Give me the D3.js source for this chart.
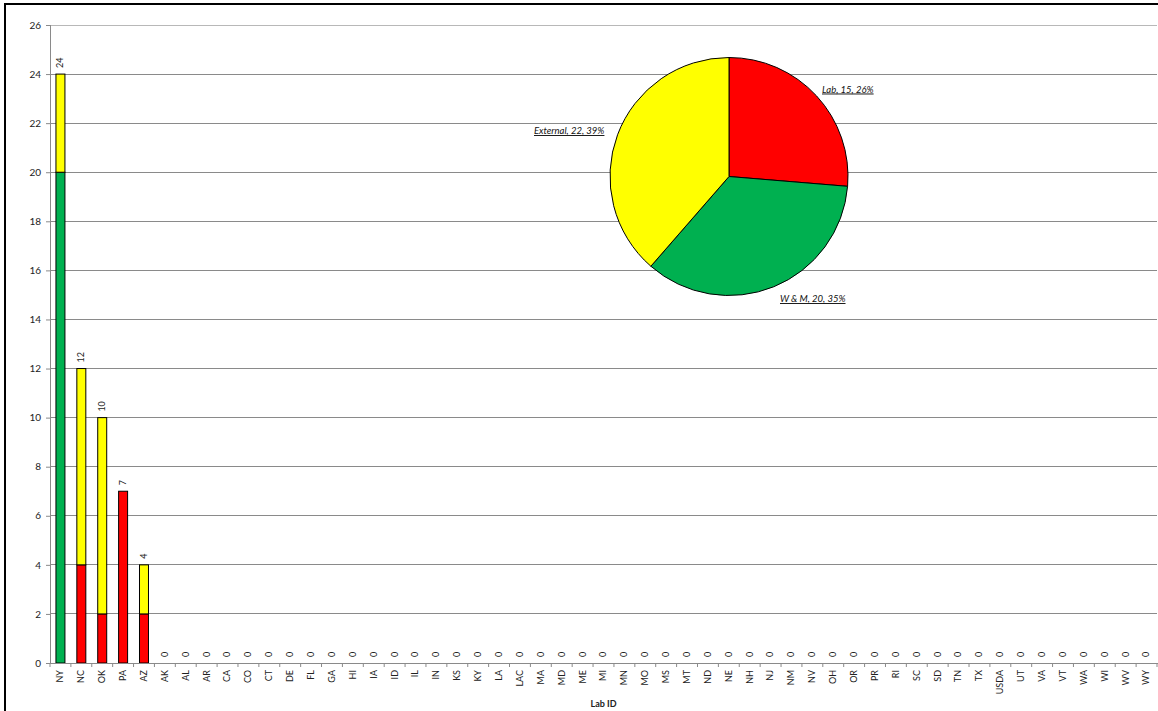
<!DOCTYPE html>
<html>
<head>
<meta charset="utf-8">
<script src="https://cdn.jsdelivr.net/npm/d3@7"></script>
<style>
  html, body { margin: 0; padding: 0; background: #fff; }
  svg { display: block; font-family: Lato, "Open Sans", "Liberation Sans", sans-serif; }
</style>
</head>
<body>
<svg id="chart" width="1158" height="711"></svg>
<script>
const categories = ["NY","NC","OK","PA","AZ","AK","AL","AR","CA","CO","CT","DE","FL","GA","HI","IA","ID","IL","IN","KS","KY","LA","LAC","MA","MD","ME","MI","MN","MO","MS","MT","ND","NE","NH","NJ","NM","NV","OH","OR","PR","RI","SC","SD","TN","TX","USDA","UT","VA","VT","WA","WI","WV","WY"];
const seriesNames = ["Lab", "W & M", "External"];
const seriesColors = ["#FF0000", "#00B050", "#FFFF00"];
const labValues      = [0, 4, 2, 7, 2].concat(new Array(48).fill(0));
const wmValues       = [20, 0, 0, 0, 0].concat(new Array(48).fill(0));
const externalValues = [4, 8, 8, 0, 2].concat(new Array(48).fill(0));
const yTicks = [0,2,4,6,8,10,12,14,16,18,20,22,24,26];
const pieValues = [15, 20, 22];
const pieLabels = ["Lab, 15, 26%", "W & M, 20, 35%", "External, 22, 39%"];
const xTitle = "Lab ID";

const svg = d3.select("#chart");
const m = { left: 50, right: 1157, top: 25, bottom: 663 };

// outer frame
svg.append("rect").attr("x", 5).attr("y", 4).attr("width", 1170).attr("height", 720)
  .attr("fill", "none").attr("stroke", "#000").attr("stroke-width", 2);

const x = d3.scaleBand().domain(categories).range([m.left, m.right]).paddingInner(0.57).paddingOuter(0.285);
const y = d3.scaleLinear().domain([0, 26]).range([m.bottom, m.top]);

// gridlines
svg.append("g").selectAll("line").data(yTicks.filter(d => d > 0)).join("line")
  .attr("x1", m.left).attr("x2", m.right)
  .attr("y1", d => y(d)).attr("y2", d => y(d))
  .attr("stroke", d => d === 26 ? "#b8b8b8" : "#8a8a8a").attr("stroke-width", 1)
  .attr("shape-rendering", "crispEdges");

// y axis
const yAxis = svg.append("g").attr("transform", `translate(${m.left},0)`)
  .call(d3.axisLeft(y).tickValues(yTicks).tickSize(4).tickPadding(5));
yAxis.select(".domain").attr("stroke", "#8a8a8a").attr("shape-rendering", "crispEdges");
yAxis.selectAll(".tick line").attr("stroke", "#8a8a8a");
yAxis.selectAll("text").attr("font-size", 10).attr("fill", "#222").attr("font-family", "Lato, sans-serif");

// stacked data
const table = categories.map((c, i) => ({ cat: c, Lab: labValues[i], "W & M": wmValues[i], External: externalValues[i] }));
const stack = d3.stack().keys(seriesNames)(table);

svg.append("g").selectAll("g").data(stack).join("g")
  .attr("fill", (d, i) => seriesColors[i])
  .selectAll("rect").data(d => d.filter(v => v[1] - v[0] > 0)).join("rect")
  .attr("x", d => x(d.data.cat))
  .attr("width", x.bandwidth())
  .attr("y", d => y(d[1]))
  .attr("height", d => y(d[0]) - y(d[1]))
  .attr("stroke", "#000").attr("stroke-width", 1);

// x axis
const xAxis = svg.append("g").attr("transform", `translate(0,${m.bottom})`)
  .call(d3.axisBottom(x).tickSize(0).tickPadding(0));
xAxis.select(".domain").attr("stroke", "#8a8a8a").attr("shape-rendering", "crispEdges");
xAxis.selectAll(".tick text")
  .attr("transform", "rotate(-90)")
  .attr("x", -7).attr("y", 0).attr("dy", "0.32em")
  .attr("text-anchor", "end")
  .attr("font-size", 9).attr("fill", "#222").attr("font-family", "Lato, sans-serif");
// tick marks at band boundaries
const bandEdges = categories.map(c => x(c) - x.step() * x.paddingInner() / 2).concat([m.right]);
svg.append("g").selectAll("line").data(bandEdges).join("line")
  .attr("x1", d => d).attr("x2", d => d)
  .attr("y1", m.bottom).attr("y2", m.bottom + 4)
  .attr("stroke", "#8a8a8a");

// total labels
svg.append("g").selectAll("text").data(table).join("text")
  .attr("transform", d => {
    const t = d.Lab + d["W & M"] + d.External;
    return `translate(${x(d.cat) + x.bandwidth() / 2},${y(t) - 6}) rotate(-90)`;
  })
  .attr("dy", "0.32em").attr("text-anchor", "start")
  .attr("font-size", 9).attr("fill", "#222").attr("font-family", "Lato, sans-serif")
  .text(d => d.Lab + d["W & M"] + d.External);

// x title
svg.append("text").attr("x", (m.left + m.right) / 2).attr("y", 707)
  .attr("text-anchor", "middle").attr("font-size", 9).attr("font-weight", "bold")
  .attr("fill", "#222").text(xTitle);

// pie
const cx = 729, cy = 176.5, r = 119;
const pie = d3.pie().sort(null).value(d => d)(pieValues);
const arc = d3.arc().innerRadius(0).outerRadius(r);
const pg = svg.append("g").attr("transform", `translate(${cx},${cy})`);
pg.selectAll("path").data(pie).join("path")
  .attr("d", arc).attr("fill", (d, i) => seriesColors[i])
  .attr("stroke", "#000").attr("stroke-width", 1);

// pie data labels (placed outside each slice, as in the reference)
const labelPos = [[93, -84], [51, 125.5], [-195, -42.5]];
pg.selectAll("text.pl").data(pie).join("text")
  .attr("class", "pl")
  .attr("x", (d, i) => labelPos[i][0])
  .attr("y", (d, i) => labelPos[i][1])
  .attr("font-size", 9.5).attr("font-style", "italic")
  .attr("text-decoration", "underline")
  .attr("fill", "#111")
  .text((d, i) => pieLabels[i]);
</script>
</body>
</html>
